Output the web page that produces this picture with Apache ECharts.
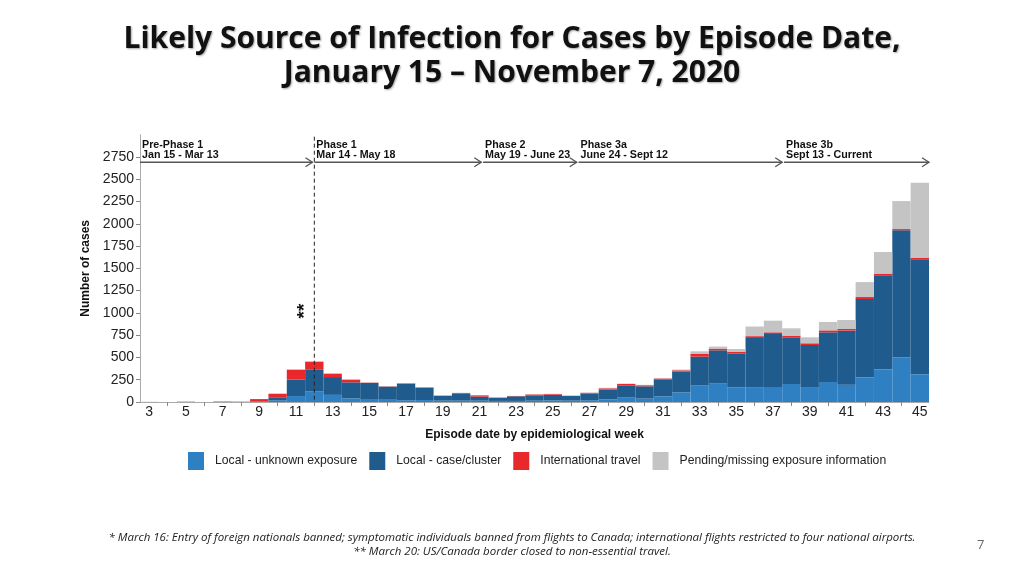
<!DOCTYPE html>
<html><head><meta charset="utf-8">
<script src="https://cdn.jsdelivr.net/npm/echarts@6/dist/echarts.min.js"></script>
<style>html,body{margin:0;padding:0;background:#fff}#c{width:1024px;height:575px}</style>
</head><body><div id="c"></div>
<script>
// ---- data ----
const weeks = ['3','4','5','6','7','8','9','10','11','12','13','14','15','16','17','18','19','20','21','22','23','24','25','26','27','28','29','30','31','32','33','34','35','36','37','38','39','40','41','42','43','44','45'];
const localUnknown  = [0,0,2,0,1,1,5,20,67,117,80,40,25,25,20,22,15,15,15,12,12,15,18,15,20,30,49,38,64,109,184,206,165,161,161,202,168,224,195,274,367,502,311];
const localCluster  = [0,0,1,0,1,1,6,33,184,250,200,181,188,148,187,140,55,82,45,35,52,60,63,52,75,110,138,138,185,232,325,374,381,557,602,524,472,558,606,882,1055,1425,1290];
const international = [1,0,1,0,4,2,22,40,112,86,38,30,4,3,3,3,2,4,15,3,3,10,8,3,8,14,15,12,15,15,30,19,19,21,19,19,19,22,18,22,19,14,15];
const pending       = [0,0,0,0,0,0,1,0,0,0,5,3,3,3,3,3,2,3,2,2,2,3,3,3,3,5,5,5,6,8,30,23,30,108,131,82,67,94,101,168,242,314,846];
const seriesNames = ['Local - unknown exposure','Local - case/cluster','International travel','Pending/missing exposure information'];
const yTickValues = [0,250,500,750,1000,1250,1500,1750,2000,2250,2500,2750];
const phases = [
  {name:'Pre-Phase 1', dates:'Jan 15 - Mar 13',   from:2.5,  to:11.9},
  {name:'Phase 1',     dates:'Mar 14 - May 18',   from:12.0, to:21.1},
  {name:'Phase 2',     dates:'May 19 - June 23',  from:21.2, to:26.3},
  {name:'Phase 3a',    dates:'June 24 - Sept 12', from:26.4, to:37.5},
  {name:'Phase 3b',    dates:'Sept 13 - Current', from:37.6, to:45.5}
];
const borderMarkWeek = 12;
const starMark = {week:11.5, value:1020, text:'**'};
const titleText = 'Likely Source of Infection for Cases by Episode Date,\nJanuary 15 \u2013 November 7, 2020';
const footnote1 = '* March 16: Entry of foreign nationals banned; symptomatic individuals banned from flights to Canada; international flights restricted to four national airports.';
const footnote2 = '** March 20: US/Canada border closed to non-essential travel.';
const pageNumber = '7';

// ---- chart ----
const colors = ['#2e80c3','#1f5b8d','#e8282b','#c4c4c4'];
const FONT = '"Liberation Sans", Arial, sans-serif';
const chart = echarts.init(document.getElementById('c'), null, {renderer:'canvas'});

function renderAnnotations(params, api){
  const ch = [];
  const yTop = api.coord([2.5, 3000])[1];
  const yBase = api.coord([2.5, 0])[1];
  const yArrow = yTop + 27.5;
  phases.forEach(p => {
    const x0 = api.coord([p.from, 0])[0];
    const x1 = api.coord([p.to, 0])[0];
    ch.push({type:'line', shape:{x1:x0, y1:yArrow, x2:x1, y2:yArrow}, style:{stroke:'#555', lineWidth:1.6}});
    ch.push({type:'polyline', shape:{points:[[x1-7, yArrow-4.5],[x1, yArrow],[x1-7, yArrow+4.5]]}, style:{stroke:'#555', lineWidth:1.3, fill:null}});
    ch.push({type:'text', style:{text:p.name, x:x0+2, y:yArrow-17.5, font:'bold 10.7px '+FONT, fill:'#111', verticalAlign:'middle'}});
    ch.push({type:'text', style:{text:p.dates, x:x0+2, y:yArrow-6.8, font:'bold 10.7px '+FONT, fill:'#111', verticalAlign:'middle'}});
  });
  const xd = api.coord([borderMarkWeek, 0])[0];
  ch.push({type:'line', shape:{x1:xd, y1:yTop+2, x2:xd, y2:yBase}, style:{stroke:'#222', lineWidth:1, lineDash:[4,3]}});
  const sp = api.coord([starMark.week, starMark.value]);
  ch.push({type:'text', x:sp[0], y:sp[1], rotation:Math.PI/2, style:{text:starMark.text, x:0, y:0, font:'bold 19px '+FONT, fill:'#111', align:'center', verticalAlign:'middle'}});
  return {type:'group', children:ch};
}

const barSeries = [localUnknown, localCluster, international, pending].map((d,i)=>({
  name: seriesNames[i], type:'bar', stack:'total', data:d, xAxisIndex:0, yAxisIndex:0,
  barCategoryGap:'0%', itemStyle:{color:colors[i]}, emphasis:{disabled:true}, z:2
}));

chart.setOption({
  animation:false,
  backgroundColor:'#fff',
  title:{text:titleText, left:'center', top:22, padding:0, itemGap:0,
    textStyle:{fontFamily:'"Open Sans", sans-serif', fontWeight:'bold', fontSize:30, lineHeight:34, color:'#111',
      textShadowColor:'rgba(0,0,0,0.35)', textShadowBlur:2, textShadowOffsetX:1, textShadowOffsetY:1}},
  legend:{data:seriesNames, left:183, top:447, itemWidth:16, itemHeight:18, itemGap:12, icon:'rect',
    selectedMode:false, textStyle:{fontFamily:FONT, fontSize:12.2, color:'#222', padding:[0,0,0,6]}},
  grid:{left:140, right:95, top:134.7, bottom:173, containLabel:false},
  xAxis:[{type:'category', data:weeks, boundaryGap:true,
      name:'Episode date by epidemiological week', nameLocation:'middle', nameGap:27,
      nameTextStyle:{fontFamily:FONT, fontWeight:'bold', fontSize:12, color:'#111'},
      axisLine:{show:true, lineStyle:{color:'#aaa', width:1}},
      axisTick:{show:true, alignWithLabel:true, length:4, lineStyle:{color:'#888'}, interval:(i)=>i%2===1},
      axisLabel:{interval:1, fontFamily:FONT, fontSize:14, color:'#222', margin:3},
      splitLine:{show:false}},
    {type:'value', min:2.5, max:45.5, show:false, gridIndex:0}],
  yAxis:[{type:'value', min:0, max:3000, interval:250,
      name:'Number of cases', nameLocation:'middle', nameGap:48,
      nameTextStyle:{fontFamily:FONT, fontWeight:'bold', fontSize:12, color:'#111'},
      axisLine:{show:true, lineStyle:{color:'#aaa', width:1}},
      axisTick:{show:true, length:4, lineStyle:{color:'#888'}, customValues:yTickValues},
      axisLabel:{fontFamily:FONT, fontSize:14, color:'#222', margin:6, customValues:yTickValues,
        formatter:(v)=> v>2750 ? '' : String(v)},
      splitLine:{show:false}}],
  series: barSeries.concat([{
    type:'custom', name:'annotations', xAxisIndex:1, yAxisIndex:0, data:[[3,0]], clip:false, z:5,
    renderItem:renderAnnotations, silent:true
  }]),
  graphic:[
    {type:'text', left:'center', top:532, style:{text:footnote1, font:'italic 11.5px "Open Sans", sans-serif', fill:'#222'}},
    {type:'text', left:'center', top:546, style:{text:footnote2, font:'italic 11.5px "Open Sans", sans-serif', fill:'#222'}},
    {type:'text', left:977, top:539, style:{text:pageNumber, font:'13px "Open Sans", sans-serif', fill:'#666'}}
  ]
});
</script></body></html>
